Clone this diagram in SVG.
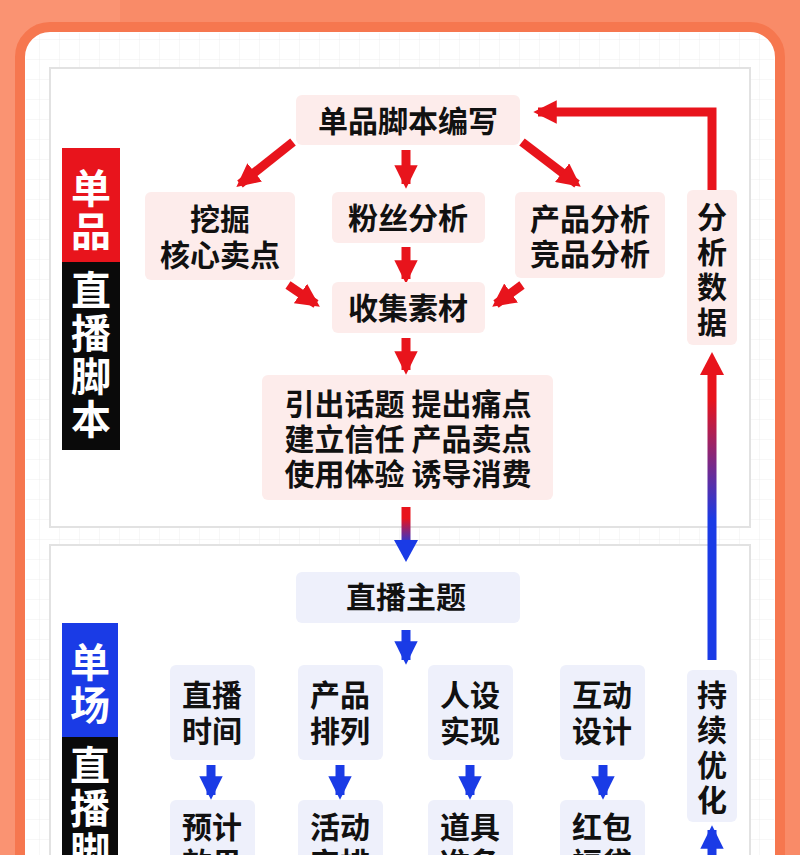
<svg xmlns="http://www.w3.org/2000/svg" width="800" height="855" viewBox="0 0 800 855">
<defs>
<style>
.t{font-family:"Noto Sans CJK SC","Noto Sans",sans-serif;font-weight:700;font-size:30px;fill:#111;text-anchor:middle}
.w{fill:#fff;font-size:40px}
.p{fill:#fdeceb}
.b{fill:#eef0fb}
.r{stroke:#e8141c;stroke-width:9;fill:none}
.bl{stroke:#1a3be6;stroke-width:9;fill:none}
</style>
<marker id="mr" viewBox="0 0 10 10" refX="8" refY="5" markerWidth="2.6" markerHeight="2.6" orient="auto"><path d="M0,0L10,5L0,10z" fill="#e8141c"/></marker>
<marker id="mb" viewBox="0 0 10 10" refX="8" refY="5" markerWidth="2.6" markerHeight="2.6" orient="auto"><path d="M0,0L10,5L0,10z" fill="#1a3be6"/></marker>
<linearGradient id="g1" gradientUnits="userSpaceOnUse" x1="0" y1="507" x2="0" y2="545"><stop offset="0.3" stop-color="#e8141c"/><stop offset="1" stop-color="#1a3be6"/></linearGradient>
<linearGradient id="g2" gradientUnits="userSpaceOnUse" x1="0" y1="400" x2="0" y2="520"><stop offset="0" stop-color="#e8141c"/><stop offset="1" stop-color="#1a3be6"/></linearGradient>
<pattern id="grid" width="20" height="20" patternUnits="userSpaceOnUse"><path d="M20,0V20H0" fill="none" stroke="#eeeeee" stroke-width="1"/></pattern>
</defs>
<rect width="800" height="855" fill="#f98b68"/>
<rect x="0" y="0" width="120" height="855" fill="#fa9372"/>
<rect x="240" y="0" width="160" height="855" fill="#f98a66"/>
<rect x="20" y="27" width="760" height="860" rx="30" fill="#fff" stroke="#f6774f" stroke-width="10"/>
<rect x="26" y="33" width="748" height="860" rx="24" fill="url(#grid)"/>
<rect x="50" y="68" width="700" height="459" fill="#fff" stroke="#e2e2e2" stroke-width="2"/>
<rect x="50" y="545" width="700" height="340" fill="#fff" stroke="#e2e2e2" stroke-width="2"/>

<g id="label1">
<rect x="62" y="148" width="58" height="114" fill="#e8141c"/>
<rect x="62" y="262" width="58" height="188" fill="#0a0a0a"/>
<text class="t w" x="91" y="203">单</text><text class="t w" x="91" y="246">品</text>
<text class="t w" x="91" y="305">直</text><text class="t w" x="91" y="348">播</text><text class="t w" x="91" y="391">脚</text><text class="t w" x="91" y="434">本</text>
</g>
<g id="label2">
<rect x="62" y="623" width="56" height="114" fill="#1a3be6"/>
<rect x="62" y="737" width="56" height="130" fill="#0a0a0a"/>
<text class="t w" x="90" y="677">单</text><text class="t w" x="90" y="720">场</text>
<text class="t w" x="90" y="780">直</text><text class="t w" x="90" y="823">播</text><text class="t w" x="90" y="866">脚</text>
</g>

<g id="connectors">
<line class="r" x1="293" y1="142" x2="240" y2="184" marker-end="url(#mr)"/>
<line class="r" x1="406" y1="150" x2="406" y2="184" marker-end="url(#mr)"/>
<line class="r" x1="522" y1="142" x2="577" y2="184" marker-end="url(#mr)"/>
<line class="r" x1="406" y1="247" x2="406" y2="279" marker-end="url(#mr)"/>
<line class="r" x1="288" y1="285" x2="316" y2="304" marker-end="url(#mr)"/>
<line class="r" x1="522" y1="285" x2="496" y2="304" marker-end="url(#mr)"/>
<line class="r" x1="406" y1="338" x2="406" y2="370" marker-end="url(#mr)"/>
<path d="M406,507V542" stroke="url(#g1)" stroke-width="9" fill="none"/>
<path d="M394,540L418,540L406,562z" fill="#1a3be6"/>
<path class="r" d="M712,190V112H538" marker-end="url(#mr)"/>
<path d="M712,372V660" stroke="url(#g2)" stroke-width="9" fill="none"/>
<path d="M700,375L724,375L712,352z" fill="#e8141c"/>
<line class="bl" x1="406" y1="630" x2="406" y2="660" marker-end="url(#mb)"/>
<line class="bl" x1="211" y1="765" x2="211" y2="795" marker-end="url(#mb)"/>
<line class="bl" x1="340" y1="765" x2="340" y2="795" marker-end="url(#mb)"/>
<line class="bl" x1="470" y1="765" x2="470" y2="795" marker-end="url(#mb)"/>
<line class="bl" x1="603" y1="765" x2="603" y2="795" marker-end="url(#mb)"/>
<line class="bl" x1="712" y1="860" x2="712" y2="830" marker-end="url(#mb)"/>
</g>

<g id="n1"><rect class="p" x="296" y="95" width="224" height="50" rx="6"/><text class="t" x="408" y="132">单品脚本编写</text></g>
<g id="n2"><rect class="p" x="145" y="192" width="150" height="88" rx="6"/><text class="t" x="220" y="230">挖掘</text><text class="t" x="220" y="266">核心卖点</text></g>
<g id="n3"><rect class="p" x="332" y="192" width="153" height="51" rx="6"/><text class="t" x="408" y="229">粉丝分析</text></g>
<g id="n4"><rect class="p" x="515" y="192" width="150" height="86" rx="6"/><text class="t" x="590" y="230">产品分析</text><text class="t" x="590" y="265">竞品分析</text></g>
<g id="n5"><rect class="p" x="332" y="282" width="153" height="51" rx="6"/><text class="t" x="408" y="319">收集素材</text></g>
<g id="n6"><rect class="p" x="262" y="375" width="291" height="125" rx="6"/><text class="t" x="408" y="415">引出话题 提出痛点</text><text class="t" x="408" y="450">建立信任 产品卖点</text><text class="t" x="408" y="485">使用体验 诱导消费</text></g>
<g id="n7"><rect class="p" x="687" y="190" width="50" height="155" rx="6"/><text class="t" x="712" y="228">分</text><text class="t" x="712" y="263">析</text><text class="t" x="712" y="298">数</text><text class="t" x="712" y="333">据</text></g>
<g id="n8"><rect class="b" x="296" y="572" width="224" height="51" rx="6"/><text class="t" x="406" y="608">直播主题</text></g>
<g id="n9"><rect class="b" x="170" y="665" width="85" height="95" rx="6"/><text class="t" x="212" y="706">直播</text><text class="t" x="212" y="742">时间</text></g>
<g id="n10"><rect class="b" x="298" y="665" width="85" height="95" rx="6"/><text class="t" x="340" y="706">产品</text><text class="t" x="340" y="742">排列</text></g>
<g id="n11"><rect class="b" x="428" y="665" width="85" height="95" rx="6"/><text class="t" x="470" y="706">人设</text><text class="t" x="470" y="742">实现</text></g>
<g id="n12"><rect class="b" x="560" y="665" width="85" height="95" rx="6"/><text class="t" x="602" y="706">互动</text><text class="t" x="602" y="742">设计</text></g>
<g id="n13"><rect class="b" x="687" y="670" width="50" height="152" rx="6"/><text class="t" x="712" y="706">持</text><text class="t" x="712" y="741">续</text><text class="t" x="712" y="776">优</text><text class="t" x="712" y="811">化</text></g>
<g id="n14"><rect class="b" x="170" y="800" width="85" height="95" rx="6"/><text class="t" x="212" y="838">预计</text><text class="t" x="212" y="874">效果</text></g>
<g id="n15"><rect class="b" x="298" y="800" width="85" height="95" rx="6"/><text class="t" x="340" y="838">活动</text><text class="t" x="340" y="874">安排</text></g>
<g id="n16"><rect class="b" x="428" y="800" width="85" height="95" rx="6"/><text class="t" x="470" y="838">道具</text><text class="t" x="470" y="874">准备</text></g>
<g id="n17"><rect class="b" x="560" y="800" width="85" height="95" rx="6"/><text class="t" x="602" y="838">红包</text><text class="t" x="602" y="874">福袋</text></g>
</svg>
